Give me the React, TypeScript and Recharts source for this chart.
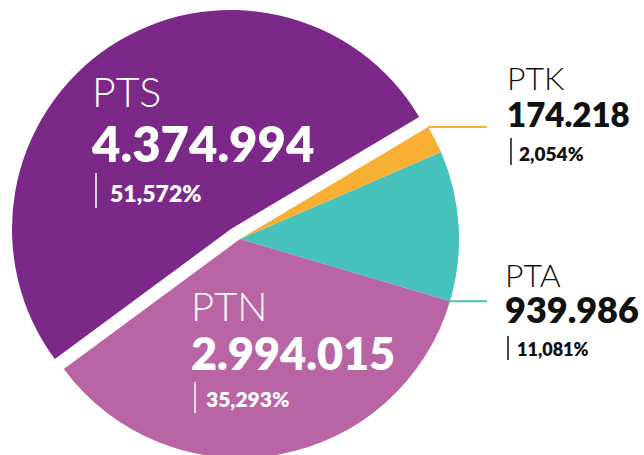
import React from "react";
import { PieChart, Pie, Cell } from "recharts";

// ---- data ----
const categories = ["PTA", "PTK", "PTS", "PTN"];
const values = [939986, 174218, 4374994, 2994015];
const colors = ["#47C1BC", "#F7AF34", "#7B2889", "#B864A5"];
const explodedCategory = "PTS";

const total = values.reduce((a, b) => a + b, 0);
const data = categories.map((name, i) => ({ name, value: values[i] }));

const fmtValue = (v: number) => v.toString().replace(/\B(?=(\d{3})+(?!\d))/g, ".");
const fmtPct = (v: number) => ((v / total) * 100).toFixed(3).replace(".", ",") + "%";

// ---- layout (positions / sizes / styles) ----
const W = 644;
const H = 455;
const CX = 240;
const CY = 239;
const R = 219;
const EXPLODE_DX = -9;
const EXPLODE_DY = -10;
const START = -16.5;
const FONT = "Lato, 'Open Sans', sans-serif";

type LabelLayout = {
  x: number;
  nameY: number;
  nameSize: number;
  valueY: number;
  valueSize: number;
  barX: number;
  barTop: number;
  barBottom: number;
  pctX: number;
  pctY: number;
  pctSize: number;
  color: string;
  leader?: "start" | "end";
  leaderEndX?: number;
};

const labelLayout: Record<string, LabelLayout> = {
  PTS: { x: 92, nameY: 107, nameSize: 41, valueY: 162, valueSize: 49, barX: 96, barTop: 173, barBottom: 208, pctX: 110, pctY: 202, pctSize: 23, color: "#FFFFFF" },
  PTN: { x: 191, nameY: 321, nameSize: 40, valueY: 370, valueSize: 45, barX: 195, barTop: 382, barBottom: 413, pctX: 206, pctY: 407, pctSize: 21, color: "#FFFFFF" },
  PTK: { x: 507, nameY: 90, nameSize: 32, valueY: 127, valueSize: 33, barX: 511, barTop: 138, barBottom: 165, pctX: 519, pctY: 161, pctSize: 19, color: "#111111", leader: "end", leaderEndX: 487 },
  PTA: { x: 505, nameY: 287, nameSize: 32, valueY: 323, valueSize: 36, barX: 508, barTop: 336, barBottom: 360, pctX: 517, pctY: 356, pctSize: 18, color: "#111111", leader: "start", leaderEndX: 487 },
};

const RAD = Math.PI / 180;

const renderLabel = (props: any) => {
  const { index, cx, cy, outerRadius, startAngle, endAngle } = props;
  const name = categories[index];
  const L = labelLayout[name];
  if (!L) return null;
  const v = values[index];
  let leader: React.ReactNode = null;
  if (L.leader) {
    const ang = L.leader === "start" ? startAngle : endAngle;
    const lx = cx + outerRadius * Math.cos(-ang * RAD);
    const ly = cy + outerRadius * Math.sin(-ang * RAD);
    leader = (
      <line x1={lx} y1={ly} x2={L.leaderEndX} y2={ly} stroke={colors[index]} strokeWidth={2} />
    );
  }
  return (
    <g key={`lbl-${name}`}>
      {leader}
      <text x={L.x} y={L.nameY} fill={L.color} fontFamily={FONT} fontWeight={300} fontSize={L.nameSize}>
        {name}
      </text>
      <text x={L.x} y={L.valueY} fill={L.color} fontFamily={FONT} fontWeight={800} fontSize={L.valueSize}>
        {fmtValue(v)}
      </text>
      <line x1={L.barX} y1={L.barTop} x2={L.barX} y2={L.barBottom} stroke={L.color} strokeWidth={1.5} />
      <text x={L.pctX} y={L.pctY} fill={L.color} fontFamily={FONT} fontWeight={800} fontSize={L.pctSize}>
        {fmtPct(v)}
      </text>
    </g>
  );
};

export default function App() {
  return (
    <div style={{ position: "absolute", left: 0, top: 0, width: W, height: H, background: "#fff" }}>
      <PieChart width={W} height={H} margin={{ top: 0, right: 0, bottom: 0, left: 0 }}>
        {/* exploded slice */}
        <Pie
          data={data}
          dataKey="value"
          nameKey="name"
          cx={CX + EXPLODE_DX}
          cy={CY + EXPLODE_DY}
          outerRadius={R}
          startAngle={START}
          endAngle={START + 360}
          stroke="none"
          isAnimationActive={false}
          label={false}
          labelLine={false}
        >
          {data.map((d, i) => (
            <Cell key={`e-${i}`} fill={d.name === explodedCategory ? colors[i] : "transparent"} />
          ))}
        </Pie>
        {/* main pie */}
        <Pie
          data={data}
          dataKey="value"
          nameKey="name"
          cx={CX}
          cy={CY}
          outerRadius={R}
          startAngle={START}
          endAngle={START + 360}
          stroke="none"
          isAnimationActive={false}
          label={renderLabel}
          labelLine={false}
        >
          {data.map((d, i) => (
            <Cell key={`m-${i}`} fill={d.name === explodedCategory ? "transparent" : colors[i]} />
          ))}
        </Pie>
      </PieChart>
    </div>
  );
}
